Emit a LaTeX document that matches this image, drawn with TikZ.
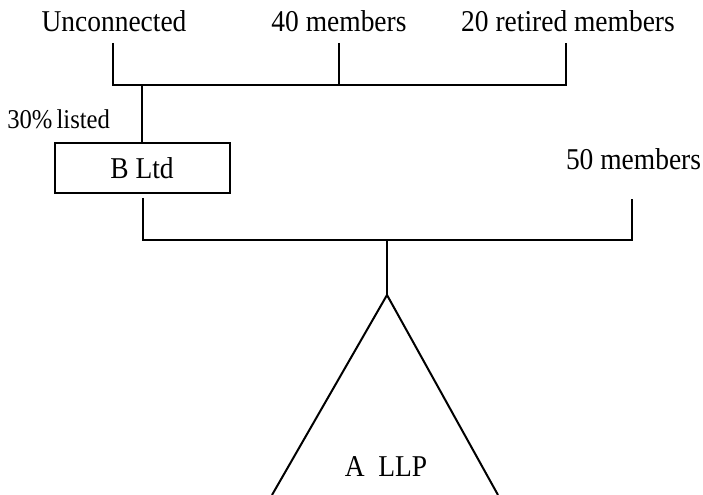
\documentclass[tikz,border=0pt]{standalone}
\usepackage{fontspec}
\usepackage{graphicx}
\setmainfont{Liberation Serif}
\newcommand{\tallt}[1]{\scalebox{1}[1.1]{#1}}
\begin{document}
\begin{tikzpicture}[x=0.75pt,y=-0.75pt,
  lbl/.style={font=\fontsize{20.6}{24}\selectfont, inner sep=0pt, anchor=base},
  small/.style={font=\fontsize{18.5}{22}\selectfont, inner sep=0pt, anchor=base west},
  wire/.style={line width=1.5pt},
  boxed/.style={draw, line width=1.5pt, minimum width=131.25pt, minimum height=37.5pt, inner sep=0pt, font=\fontsize{20.6}{24}\selectfont}]
\useasboundingbox (0,0) rectangle (703,495);
% labels
\node[lbl] (unc) at (114,32) {\tallt{Unconnected}};
\node[lbl] (m40) at (339,32) {\tallt{40 members}};
\node[lbl] (ret) at (568,32) {\tallt{20 retired members}};
\node[small] (lst) at (7,129) {\tallt{30\%\,listed}};
\node[lbl] (m50) at (633.5,170) {\tallt{50 members}};
\node[boxed] (b) at (142,168) {\tallt{B Ltd}};
\node[lbl] (a) at (386,476) {\tallt{A\ \ LLP}};
% coordinates for free ends
\coordinate (t1) at (113,43);
\coordinate (t2) at (339,43);
\coordinate (t3) at (566,43);
\coordinate (j1) at (142,85);
\coordinate (u1) at (143,198);
\coordinate (u2) at (632,199);
\coordinate (j2) at (387,240);
\coordinate (apex) at (387,295);
\coordinate (bl) at (272,495);
\coordinate (br) at (498,495);
% upper bar
\draw[wire] (t1) |- (t3 |- j1) -- (t3);
\draw[wire] (t2) -- (t2 |- j1);
\draw[wire] (j1) -- (b.north -| j1);
% lower bar
\draw[wire] (u1) |- (u2 |- j2) -- (u2);
\draw[wire] (j2) -- (apex);
% triangle
\draw[wire] (bl) -- (apex) -- (br);
\end{tikzpicture}
\end{document}
